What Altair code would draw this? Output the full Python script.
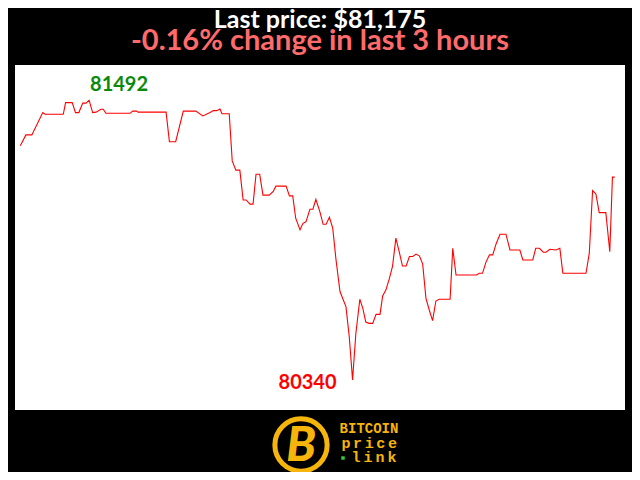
import altair as alt
import pandas as pd

# minutes since start of the 3-hour window
minutes = [0.1, 1.8, 3.6, 6.9, 7.6, 13.1, 13.8, 15.8, 16.8, 17.8, 19.0, 20.0, 20.9, 22.0, 23.0,
           24.5, 25.2, 26.0, 33.3, 34.1, 35.3, 35.7, 44.2, 45.2, 47.1, 49.4, 53.2, 55.3, 57.5,
           58.5, 59.5, 60.5, 61.1, 63.3, 64.2, 65.3, 66.5, 67.5, 68.4, 69.6, 70.5, 71.4, 72.5,
           73.5, 75.4, 76.6, 77.4, 80.5, 81.5, 82.5, 83.4, 84.7, 85.6, 86.5, 87.7, 88.6, 89.5,
           90.7, 91.7, 92.6, 93.6, 94.6, 95.6, 96.8, 97.8, 98.6, 99.6, 100.6, 101.6, 102.8,
           103.7, 104.6, 105.6, 106.7, 107.7, 108.9, 109.7, 110.7, 111.7, 112.7, 113.7, 114.7,
           115.7, 116.8, 117.8, 118.8, 119.8, 120.8, 121.8, 122.8, 123.8, 124.8, 125.8, 126.8,
           130.1, 130.9, 131.9, 138.1, 138.9, 139.9, 140.9, 142.0, 143.0, 144.0, 145.2, 147.0,
           148.2, 151.2, 152.1, 155.1, 156.0, 157.1, 158.3, 159.1, 160.3, 162.1, 163.3, 164.2,
           171.2, 172.2, 173.2, 174.2, 175.2, 177.2, 178.4, 179.2, 179.9]

prices = [81304, 81349, 81349, 81441, 81434, 81434, 81482, 81482, 81441, 81441, 81480, 81480,
          81492, 81441, 81443, 81455, 81455, 81438, 81438, 81447, 81447, 81443, 81443, 81321,
          81321, 81447, 81447, 81427, 81441, 81449, 81449, 81456, 81436, 81436, 81242, 81204,
          81204, 81081, 81081, 81064, 81064, 81187, 81187, 81101, 81101, 81116, 81138, 81138,
          81098, 81098, 81006, 80958, 80985, 80991, 81043, 81043, 81084, 81033, 80981, 80981,
          81010, 80965, 80834, 80704, 80669, 80642, 80518, 80340, 80532, 80672, 80635, 80578,
          80573, 80573, 80610, 80610, 80686, 80711, 80756, 80809, 80924, 80868, 80809, 80809,
          80848, 80848, 80858, 80851, 80818, 80676, 80628, 80584, 80665, 80672, 80672, 80882,
          80772, 80772, 80779, 80779, 80823, 80855, 80855, 80900, 80940, 80940, 80875, 80875,
          80834, 80834, 80882, 80882, 80866, 80866, 80878, 80875, 80882, 80779, 80779, 80862,
          81120, 81106, 81029, 81029, 80868, 81175, 81175]

title_text = "Last price: $81,175"
subtitle_text = "-0.16% change in last 3 hours"

df = pd.DataFrame({"t": minutes, "price": prices})
imax = df["price"].idxmax()
imin = df["price"].idxmin()
df_max = pd.DataFrame({"t": [df.t[imax]], "price": [df.price[imax]], "label": [str(df.price[imax])]})
df_min = pd.DataFrame({"t": [df.t[imin]], "price": [df.price[imin]], "label": [str(df.price[imin])]})

X = alt.X("t:Q", scale=alt.Scale(domain=[-1.5, 183.0], nice=False, zero=False), axis=None)
Y = alt.Y("price:Q", scale=alt.Scale(domain=[80216, 81637], nice=False, zero=False), axis=None)

line = alt.Chart(df).mark_line(color="#ff0000", strokeWidth=1.1).encode(x=X, y=Y)

max_text = alt.Chart(df_max).mark_text(
    font="Lato", fontWeight="bold", fontSize=20, color="#0a8a0a",
    align="left", baseline="alphabetic", dx=1, dy=-9
).encode(x=X, y=Y, text="label:N")

min_text = alt.Chart(df_min).mark_text(
    font="Lato", fontWeight="bold", fontSize=20, color="#ff0000",
    align="right", baseline="alphabetic", dx=-16, dy=9
).encode(x=X, y=Y, text="label:N")

one = pd.DataFrame({"a": [0]})
gold = "#f5b50a"


def logo_text(txt, x, y, size):
    return alt.Chart(one).mark_text(
        font="Liberation Mono", fontWeight="bold", fontSize=size,
        color=gold, align="center", baseline="middle"
    ).encode(x=alt.value(x), y=alt.value(y), text=alt.value(txt))


ring = alt.Chart(one).mark_point(shape="circle", filled=False, stroke=gold, strokeWidth=5,
                                 size=2734, opacity=1).encode(
    x=alt.value(286), y=alt.value(380))
coin_b = alt.Chart(one).mark_text(font="Lato", fontWeight=900, fontStyle="italic", fontSize=48,
                                  color=gold, align="center", baseline="middle").encode(
    x=alt.value(286), y=alt.value(382), text=alt.value("B"))

logo_layers = [logo_text("BITCOIN", 354, 364, 14)]
for i, ch in enumerate("price"):
    logo_layers.append(logo_text(ch, 331 + 11.6 * i, 378, 15))
for i, ch in enumerate("link"):
    logo_layers.append(logo_text(ch, 341 + 12 * i, 392, 15))
dot = alt.Chart(one).mark_point(shape="square", filled=True, color="#2ecc40", size=12,
                                opacity=1).encode(x=alt.value(328), y=alt.value(393))

chart = alt.layer(line, max_text, min_text, ring, coin_b, *logo_layers, dot).properties(
    width=610,
    height=345,
    autosize=alt.AutoSizeParams(type="none"),
    padding={"left": 7, "top": 57, "right": 7, "bottom": 62},
    background="black",
    title=alt.TitleParams(
        text=title_text, subtitle=subtitle_text,
        color="white", subtitleColor="#ff6b6b",
        font="Lato", subtitleFont="Lato",
        fontSize=25, subtitleFontSize=29,
        fontWeight="bold", subtitleFontWeight="bold",
        anchor="middle", offset=9, subtitlePadding=-6,
    ),
).configure_view(fill="white", stroke=None)

chart.save("out.html", embed_options={"renderer": "svg", "actions": False})
